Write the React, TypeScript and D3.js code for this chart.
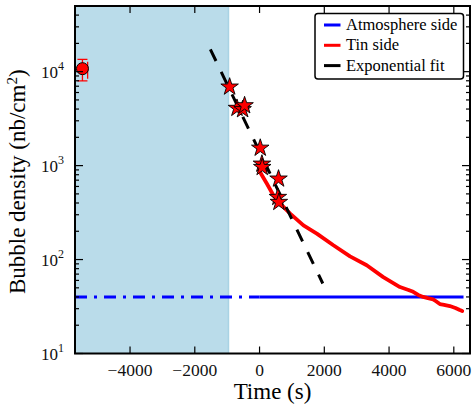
import React from "react";
import * as d3 from "d3";

// ---- data ----
const xDomain = [-5700, 6500];
const yDomain = [10, 50000];
const xTicks = [-4000, -2000, 0, 2000, 4000, 6000];
const yTicks = [10, 100, 1000, 10000];
const yTickExps = ["1", "2", "3", "4"];

const shadeRange = [-5700, -960];

const atmoValue = 40;
const atmoDashTimes = [-5700, 0];
const atmoSolidTimes = [0, 6300];

const fitTimes = [-1519, 1953];
const fitValues = [17300, 55.6];

const starTimes = [-924, -697, -523, -462, 22, 73, 83, 586, 566, 597];
const starValues = [6890, 4090, 3960, 4360, 1540, 1042, 960, 723, 461, 408];

const tinTimes = [0, 228, 431, 638, 946, 1356, 1769, 2281, 2795, 3310, 3821, 4336, 4600, 4746, 4900, 5054, 5200, 5362, 5450, 5569, 5700, 5877, 6050, 6185, 6260];
const tinValues = [870, 640, 481, 393, 308, 231, 189, 142, 108, 87, 65, 51, 47.5, 45.3, 42, 40, 38.8, 37.7, 36, 33.6, 33, 32, 30.5, 29, 28.3];

const refTime = -5470;
const refValue = 10760;
const refErrLow = 7960;
const refErrHigh = 13500;
const refXErr = 160;

const legendLabels = ["Atmosphere side", "Tin side", "Exponential fit"];
const legendColors = ["#0000ff", "#ff0000", "#000000"];

// ---- layout ----
const W = 473, H = 405;
const L = 75, R = 470, T = 6, B = 353.5;
const FONT = "Liberation Serif";

export default function App() {
  const x = d3.scaleLinear().domain(xDomain).range([L, R]);
  const y = d3.scaleLog().domain(yDomain).range([B, T]);

  const line = d3.line<[number, number]>().x(d => x(d[0])).y(d => y(d[1]));
  const tinPath = line(tinTimes.map((t, i) => [t, tinValues[i]] as [number, number]))!;
  const fitPath = line(fitTimes.map((t, i) => [t, fitValues[i]] as [number, number]))!;
  const atmoDashPath = line(atmoDashTimes.map(t => [t, atmoValue] as [number, number]))!;
  const atmoSolidPath = line(atmoSolidTimes.map(t => [t, atmoValue] as [number, number]))!;

  const star = d3.symbol().type(d3.symbolStar).size(95)()!;

  const minorY: number[] = [];
  yTicks.forEach(d => {
    for (let k = 2; k <= 9; k++) {
      const v = k * d;
      if (v < yDomain[1]) minorY.push(v);
    }
  });

  const cx = x(refTime), cy = y(refValue);

  return (
    <svg width={W} height={H} style={{ position: "absolute", left: 0, top: 0, background: "#fff" }}>
      <style>{`text { font-family: "Liberation Serif"; }`}</style>
      <defs>
        <clipPath id="plot">
          <rect x={L} y={T} width={R - L} height={B - T} />
        </clipPath>
      </defs>
      <g clipPath="url(#plot)">
        <rect x={x(shadeRange[0])} y={T} width={x(shadeRange[1]) - x(shadeRange[0])} height={B - T} fill="#badcea" />
        <line x1={x(shadeRange[1])} x2={x(shadeRange[1])} y1={T} y2={B} stroke="#a9d3e4" strokeWidth={1.5} />
        <path d={atmoDashPath} stroke="#0000ff" strokeWidth={3} fill="none" strokeDasharray="12,7,3,7" />
        <path d={atmoSolidPath} stroke="#0000ff" strokeWidth={3} fill="none" />
        <path d={tinPath} stroke="#ff0000" strokeWidth={3.8} fill="none" strokeLinejoin="round" strokeLinecap="round" />
        <path d={fitPath} stroke="#000" strokeWidth={3} fill="none" strokeDasharray="13,12" />
        {starTimes.map((t, i) => (
          <path key={i} d={star} transform={`translate(${x(t)},${y(starValues[i])})`} fill="#ff0000" stroke="#000" strokeWidth={0.9} />
        ))}
        {/* reference point with error bars */}
        <g stroke="#ff0000" strokeWidth={1.3}>
          <line x1={cx} x2={cx} y1={y(refErrHigh)} y2={y(refErrLow)} />
          <line x1={cx - 5} x2={cx + 5} y1={y(refErrHigh)} y2={y(refErrHigh)} />
          <line x1={cx - 5} x2={cx + 5} y1={y(refErrLow)} y2={y(refErrLow)} />
          <line x1={x(refTime + refXErr)} x2={x(refTime + refXErr)} y1={cy - 7} y2={cy + 10} />
        </g>
        <circle cx={cx} cy={cy} r={6} fill="#ff0000" stroke="#000" strokeWidth={1} />
      </g>

      {/* ticks */}
      <g stroke="#000" strokeWidth={1.2}>
        {xTicks.map(t => (
          <g key={t}>
            <line x1={x(t)} x2={x(t)} y1={B} y2={B - 7} />
            <line x1={x(t)} x2={x(t)} y1={T} y2={T + 7} />
          </g>
        ))}
        {yTicks.map(v => (
          <g key={v}>
            <line x1={L} x2={L + 8} y1={y(v)} y2={y(v)} />
            <line x1={R} x2={R - 8} y1={y(v)} y2={y(v)} />
          </g>
        ))}
        {minorY.map(v => (
          <g key={v}>
            <line x1={L} x2={L + 4} y1={y(v)} y2={y(v)} />
            <line x1={R} x2={R - 4} y1={y(v)} y2={y(v)} />
          </g>
        ))}
      </g>
      <rect x={L} y={T} width={R - L} height={B - T} fill="none" stroke="#000" strokeWidth={2} />

      {/* tick labels */}
      {xTicks.map(t => (
        <text key={t} x={x(t)} y={B + 22} textAnchor="middle" fontFamily={FONT} fontSize={17.5} fill="#111">
          {t < 0 ? "\u2212" + Math.abs(t) : String(t)}
        </text>
      ))}
      {yTicks.map((v, i) => (
        <text key={v} x={64} y={y(v) + 6} textAnchor="end" fontFamily={FONT} fontSize={17} fill="#111">
          <tspan>10</tspan>
          <tspan dy={-8} fontSize={12}>{yTickExps[i]}</tspan>
        </text>
      ))}

      {/* axis labels */}
      <text x={(L + R) / 2} y={399} textAnchor="middle" fontFamily={FONT} fontSize={23} fill="#000">Time (s)</text>
      <text transform={`translate(25,${(T + B) / 2 + 2}) rotate(-90)`} textAnchor="middle" fontFamily={FONT} fontSize={23} fill="#000">
        <tspan>Bubble density (nb/cm</tspan>
        <tspan dy={-8} fontSize={15}>2</tspan>
        <tspan dy={8}>)</tspan>
      </text>

      {/* legend */}
      <rect x={315} y={13.5} width={148.5} height={65.5} rx={3} fill="#fff" stroke="#000" strokeWidth={1.5} />
      {legendLabels.map((lab, i) => (
        <g key={lab}>
          <line x1={324} x2={340.5} y1={25 + i * 20.3} y2={25 + i * 20.3} stroke={legendColors[i]} strokeWidth={3} />
          <text x={346} y={30 + i * 20.3} fontFamily={FONT} fontSize={16.5} fill="#000">{lab}</text>
        </g>
      ))}
    </svg>
  );
}
